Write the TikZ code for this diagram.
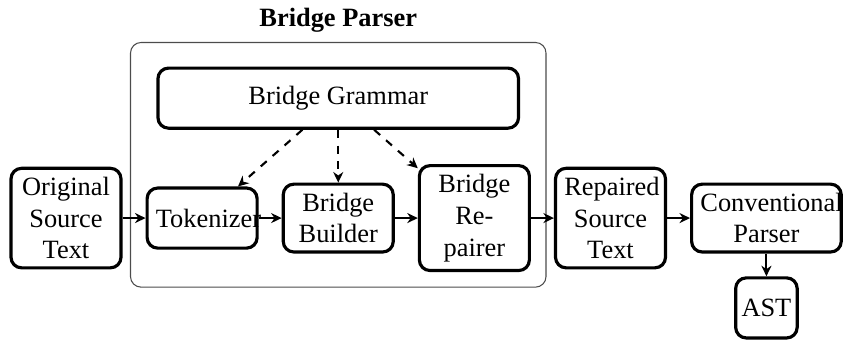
\documentclass[tikz,border=0pt]{standalone}
\usepackage{fontspec}
\setmainfont{Liberation Serif}
\usetikzlibrary{
  positioning,
  arrows.meta,
  fit
}

\begin{document}
\begin{tikzpicture}[
  >={Stealth[length=4pt, width=3.8pt]},
  box/.style={draw, very thick, rounded corners=4pt,
              minimum height=0.8cm, inner sep=3.33pt,
              align=center},
  stage/.style={box, text width=35pt},
  arr/.style={->, thick},
  dep/.style={->, thick, dashed},
  node distance=8.7pt,
]
\useasboundingbox (-25pt,-46.2pt) rectangle (294.3pt,82.6pt);

\node[stage] (orig) {Original\\Source\\Text};
\node[stage, right=of orig] (tok) {Tokenizer};
\node[stage, right=of tok] (build) {Bridge\\Builder};
\node[stage, right=of build] (rep) {Bridge\\Re-\\pairer};
\node[stage, right=of rep] (fixed) {Repaired\\Source\\Text};
\node[stage, right=of fixed, text width=50pt] (conv) {Conventional\\Parser};
\node[box, inner xsep=2.2pt, below=8.6pt of conv] (ast) {AST};

\node[box, minimum width=4.8cm, above=20pt of build] (gram) {Bridge Grammar};

% bridge parser frame
\coordinate (ptop) at ([yshift=3.4pt]gram.north);
\node[draw=black!70, line width=0.4pt, rounded corners=4pt, inner sep=5.7pt,
      fit=(tok)(rep)(ptop),
      label={[font=\bfseries]above:Bridge Parser}] (parser) {};

\draw[arr] (orig) -- (tok);
\draw[arr] (tok) -- (build);
\draw[arr] (build) -- (rep);
\draw[arr] (rep) -- (fixed);
\draw[arr] (fixed) -- (conv);
\draw[arr] (conv) -- (ast);

\draw[dep] (gram) -- (tok);
\draw[dep] (gram) -- (build);
\draw[dep] (gram) -- (rep);

\end{tikzpicture}
\end{document}
